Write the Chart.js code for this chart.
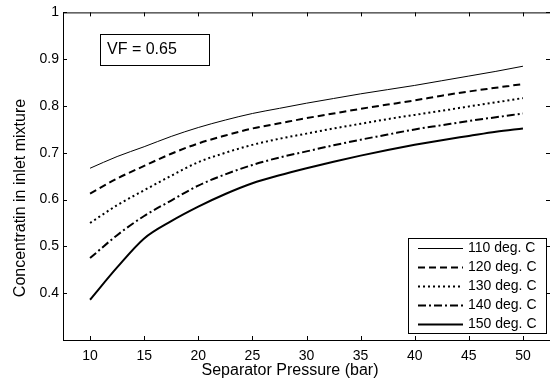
<!DOCTYPE html>
<html><head><meta charset="utf-8">
<script src="https://cdn.jsdelivr.net/npm/chart.js@4/dist/chart.umd.min.js"></script>
<style>html,body{margin:0;padding:0;background:#fff}#wrap{width:550px;height:381px}</style>
</head><body><div id="wrap"><canvas id="c" width="550" height="381"></canvas></div>
<script>
// ---- data ----
const pressures = [10, 12.5, 15, 17.5, 20, 22.5, 25, 27.5, 30, 32.5, 35, 37.5, 40, 42.5, 45, 47.5, 50];
const conc110 = [0.667, 0.692, 0.713, 0.735, 0.754, 0.770, 0.784, 0.795, 0.806, 0.816, 0.826, 0.835, 0.844, 0.854, 0.864, 0.874, 0.885];
const conc120 = [0.613, 0.645, 0.672, 0.698, 0.720, 0.737, 0.752, 0.763, 0.774, 0.784, 0.794, 0.803, 0.812, 0.822, 0.831, 0.839, 0.847];
const conc130 = [0.550, 0.588, 0.620, 0.651, 0.680, 0.700, 0.717, 0.730, 0.741, 0.752, 0.762, 0.772, 0.781, 0.790, 0.799, 0.808, 0.817];
const conc140 = [0.475, 0.524, 0.565, 0.598, 0.630, 0.654, 0.674, 0.690, 0.703, 0.716, 0.728, 0.739, 0.750, 0.759, 0.768, 0.776, 0.784];
const conc150 = [0.386, 0.455, 0.517, 0.554, 0.585, 0.612, 0.635, 0.652, 0.667, 0.681, 0.694, 0.706, 0.717, 0.727, 0.736, 0.745, 0.752];
const seriesLabels = ['110 deg. C', '120 deg. C', '130 deg. C', '140 deg. C', '150 deg. C'];
const xTicks = [10, 15, 20, 25, 30, 35, 40, 45, 50];
const yTicks = [0.4, 0.5, 0.6, 0.7, 0.8, 0.9, 1];
const xTitle = 'Separator Pressure (bar)';
const yTitle = 'Concentratin in inlet mixture';
const boxText = 'VF = 0.65';

// ---- styles ----
const FONT = '"Liberation Sans", Arial, Helvetica, sans-serif';
const styles = [
  {w: 1, dash: []},
  {w: 2, dash: [7, 4]},
  {w: 2, dash: [2, 3]},
  {w: 2, dash: [8, 3, 2, 3]},
  {w: 2, dash: []}
];
const allSeries = [conc110, conc120, conc130, conc140, conc150];

const datasets = allSeries.map((arr, i) => ({
  label: seriesLabels[i],
  data: pressures.map((p, j) => ({x: p, y: arr[j]})),
  borderColor: '#000',
  backgroundColor: '#000',
  borderWidth: styles[i].w,
  borderDash: styles[i].dash,
  pointRadius: 0,
  fill: false,
  cubicInterpolationMode: 'monotone'
}));

const decor = {
  id: 'decor',
  afterDraw(chart) {
    const ctx = chart.ctx;
    const a = chart.chartArea;
    const xs = chart.scales.x, ys = chart.scales.y;
    ctx.save();
    ctx.strokeStyle = '#000';
    ctx.lineWidth = 1;
    ctx.setLineDash([]);
    // top border
    ctx.beginPath();
    ctx.moveTo(a.left, a.top + 0.5);
    ctx.lineTo(a.right, a.top + 0.5);
    ctx.stroke();
    // inward ticks
    const TL = 4;
    ctx.beginPath();
    xTicks.forEach(v => {
      const px = Math.round(xs.getPixelForValue(v)) + 0.5;
      ctx.moveTo(px, a.bottom); ctx.lineTo(px, a.bottom - TL);
      ctx.moveTo(px, a.top); ctx.lineTo(px, a.top + TL);
    });
    yTicks.forEach(v => {
      const py = Math.round(ys.getPixelForValue(v)) + 0.5;
      ctx.moveTo(a.left, py); ctx.lineTo(a.left + TL, py);
      ctx.moveTo(a.right - 4, py); ctx.lineTo(a.right, py);
    });
    ctx.stroke();

    // VF box
    ctx.fillStyle = '#fff';
    ctx.fillRect(100, 34, 110, 32);
    ctx.strokeRect(100.5, 34.5, 109, 31);
    ctx.fillStyle = '#000';
    ctx.font = '16px ' + FONT;
    ctx.textBaseline = 'middle';
    ctx.textAlign = 'left';
    ctx.fillText(boxText, 107, 50);

    // legend
    const lx = 408, ly = 238, lw = 138, lh = 95;
    ctx.fillStyle = '#fff';
    ctx.fillRect(lx, ly, lw, lh);
    ctx.strokeRect(lx + 0.5, ly + 0.5, lw, lh);
    ctx.font = '14px ' + FONT;
    chart.data.datasets.forEach((ds, i) => {
      const y = ly + 9.5 + i * 19;
      ctx.save();
      ctx.lineWidth = ds.borderWidth;
      ctx.setLineDash(ds.borderDash);
      ctx.beginPath();
      ctx.moveTo(418, Math.round(y) + 0.5);
      ctx.lineTo(463, Math.round(y) + 0.5);
      ctx.stroke();
      ctx.restore();
      ctx.fillStyle = '#000';
      ctx.fillText(ds.label, 468, y + 1);
    });

    // axis titles
    ctx.font = '16px ' + FONT;
    ctx.textAlign = 'center';
    ctx.textBaseline = 'middle';
    ctx.fillText(xTitle, 290, 371);
    ctx.save();
    ctx.translate(21, 198);
    ctx.rotate(-Math.PI / 2);
    ctx.fillText(yTitle, 0, 0);
    ctx.restore();
    ctx.restore();
  }
};

new Chart(document.getElementById('c'), {
  type: 'line',
  data: {datasets},
  options: {
    responsive: false,
    animation: false,
    devicePixelRatio: 1,
    layout: {padding: {top: 11, right: 0, left: 0, bottom: 0}},
    plugins: {legend: {display: false}, tooltip: {enabled: false}, title: {display: false}},
    scales: {
      x: {
        type: 'linear', min: 7.5, max: 52.5,
        afterBuildTicks: s => { s.ticks = xTicks.map(v => ({value: v})); },
        afterFit: s => { s.height = 41; },
        grid: {drawOnChartArea: false, drawTicks: false},
        border: {color: '#000', width: 1},
        ticks: {color: '#000', font: {family: FONT, size: 14}, padding: 8, maxRotation: 0, autoSkip: false,
                callback: v => String(v)}
      },
      y: {
        type: 'linear', min: 0.3, max: 1,
        afterBuildTicks: s => { s.ticks = yTicks.map(v => ({value: v})); },
        afterFit: s => { s.width = 63; },
        grid: {drawOnChartArea: false, drawTicks: false},
        border: {color: '#000', width: 1},
        ticks: {color: '#000', font: {family: FONT, size: 14}, padding: 4, autoSkip: false,
                callback: v => String(Math.round(v * 10) / 10)}
      }
    }
  },
  plugins: [decor]
});
</script>
</body></html>
